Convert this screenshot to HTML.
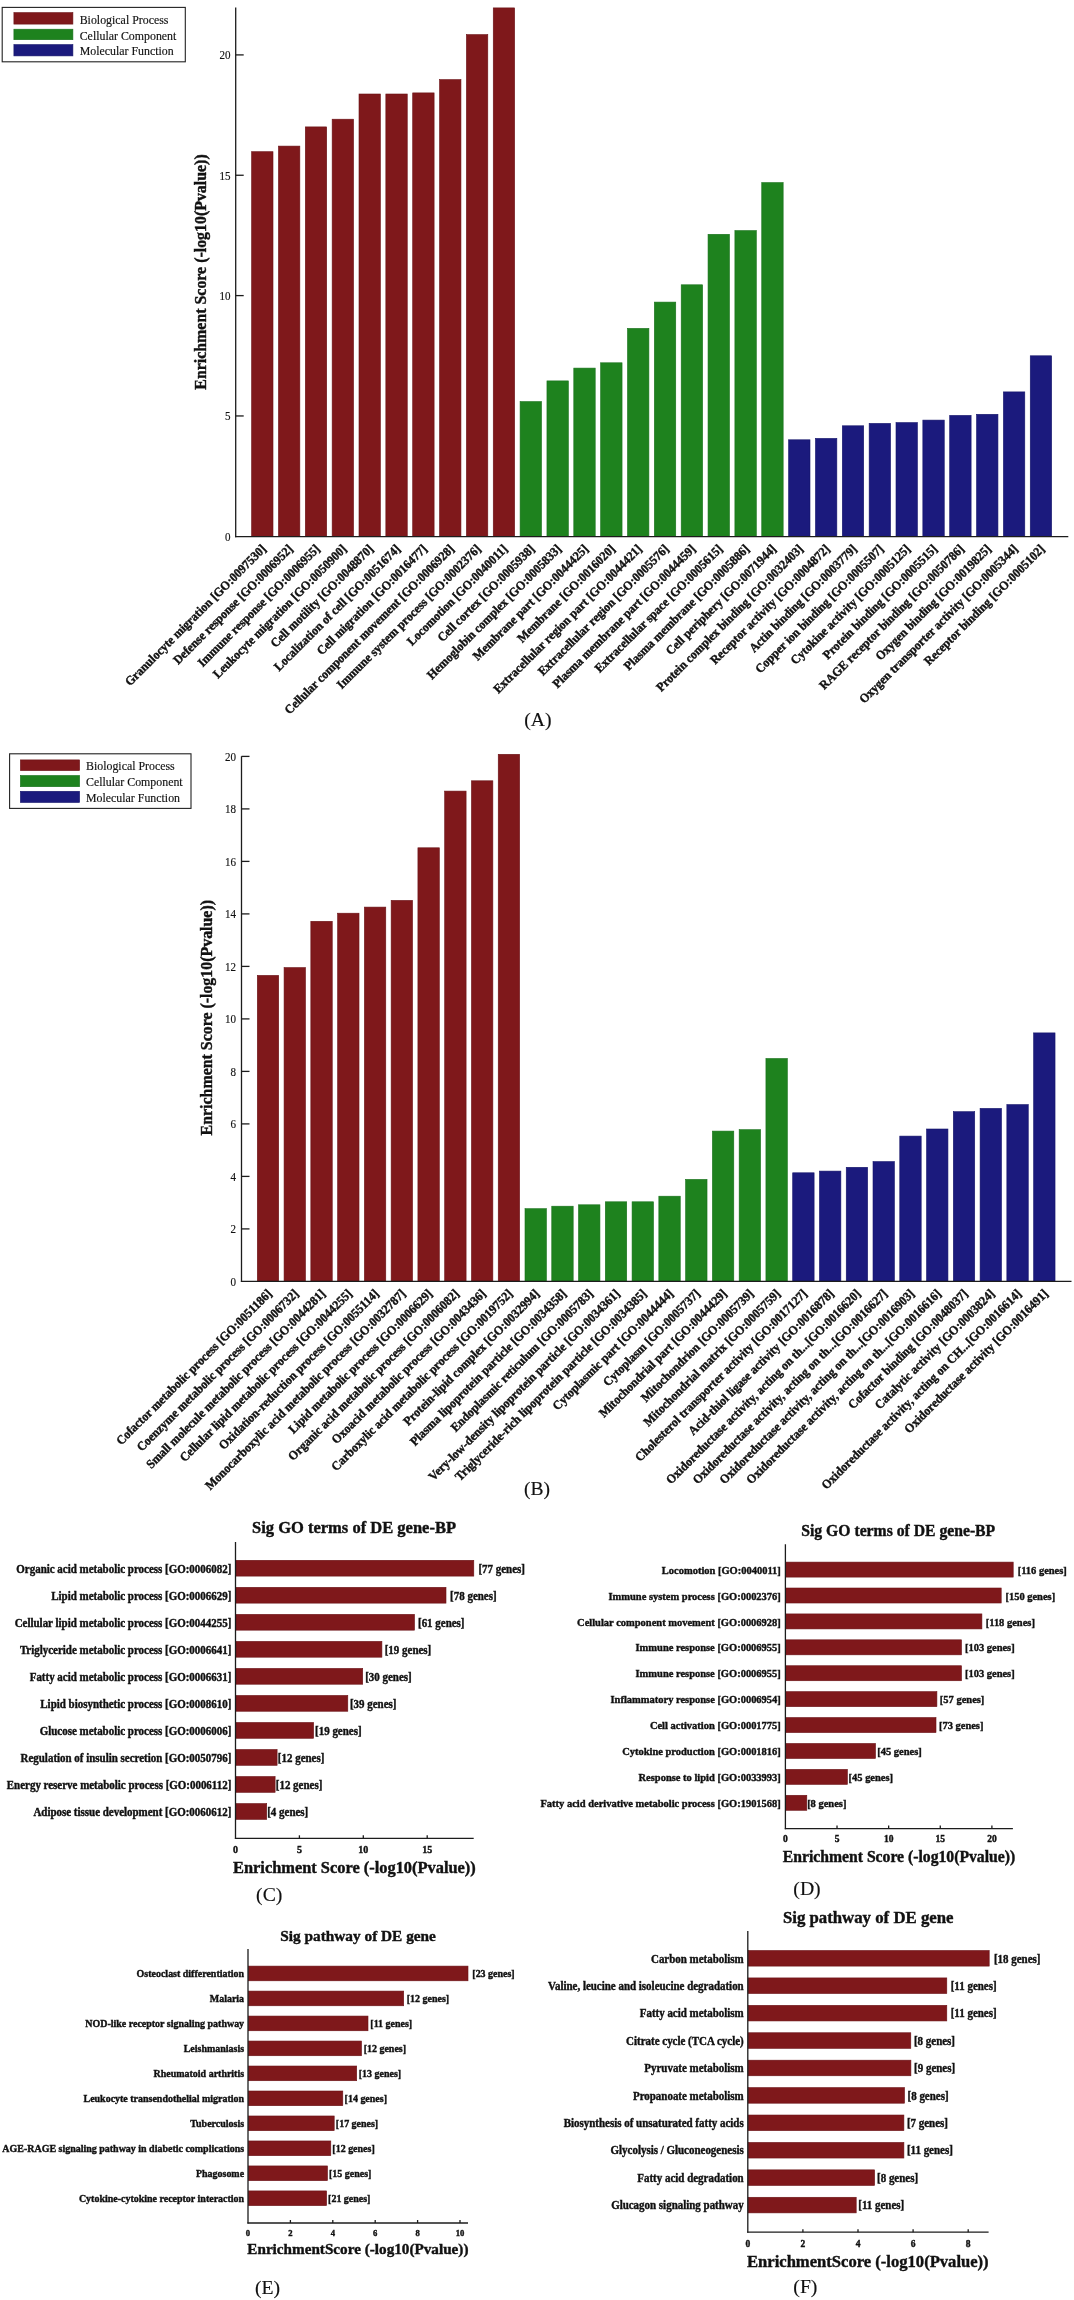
<!DOCTYPE html>
<html><head><meta charset="utf-8"><title>GO enrichment figure</title>
<style>
html,body{margin:0;padding:0;background:#fff;}
body{width:1074px;height:2300px;overflow:hidden;}
svg{display:block;will-change:transform;font-family:"Liberation Serif",serif;}
text{fill:#111;}
</style></head><body>
<svg width="1074" height="2300" viewBox="0 0 1074 2300">
<rect width="1074" height="2300" fill="#fff"/>
<rect x="2.2" y="7.4" width="183.1" height="54.4" fill="none" stroke="#222" stroke-width="1.1"/>
<rect x="13.90" y="12.60" width="59.00" height="11.50" fill="#7f181b" stroke="#6a1216" stroke-width="0.6"/>
<text transform="translate(79.70 23.51) scale(0.990 1)" font-size="12.0" stroke="#111" stroke-width="0.15">Biological Process</text>
<rect x="13.90" y="29.20" width="59.00" height="10.50" fill="#1e821e" stroke="#17701a" stroke-width="0.6"/>
<text transform="translate(79.70 39.61) scale(0.990 1)" font-size="12.0" stroke="#111" stroke-width="0.15">Cellular Component</text>
<rect x="13.90" y="44.60" width="59.00" height="11.30" fill="#1b1a7d" stroke="#15146a" stroke-width="0.6"/>
<text transform="translate(79.70 55.41) scale(0.990 1)" font-size="12.0" stroke="#111" stroke-width="0.15">Molecular Function</text>
<rect x="251.60" y="151.70" width="21.40" height="384.70" fill="#7f181b" stroke="#6a1216" stroke-width="0.6"/>
<rect x="278.45" y="146.10" width="21.40" height="390.30" fill="#7f181b" stroke="#6a1216" stroke-width="0.6"/>
<rect x="305.30" y="126.90" width="21.40" height="409.50" fill="#7f181b" stroke="#6a1216" stroke-width="0.6"/>
<rect x="332.15" y="119.20" width="21.40" height="417.20" fill="#7f181b" stroke="#6a1216" stroke-width="0.6"/>
<rect x="359.00" y="94.00" width="21.40" height="442.40" fill="#7f181b" stroke="#6a1216" stroke-width="0.6"/>
<rect x="385.85" y="94.00" width="21.40" height="442.40" fill="#7f181b" stroke="#6a1216" stroke-width="0.6"/>
<rect x="412.70" y="92.90" width="21.40" height="443.50" fill="#7f181b" stroke="#6a1216" stroke-width="0.6"/>
<rect x="439.55" y="79.60" width="21.40" height="456.80" fill="#7f181b" stroke="#6a1216" stroke-width="0.6"/>
<rect x="466.40" y="34.60" width="21.40" height="501.80" fill="#7f181b" stroke="#6a1216" stroke-width="0.6"/>
<rect x="493.25" y="7.90" width="21.40" height="528.50" fill="#7f181b" stroke="#6a1216" stroke-width="0.6"/>
<rect x="520.10" y="401.60" width="21.40" height="134.80" fill="#1e821e" stroke="#17701a" stroke-width="0.6"/>
<rect x="546.95" y="380.90" width="21.40" height="155.50" fill="#1e821e" stroke="#17701a" stroke-width="0.6"/>
<rect x="573.80" y="368.10" width="21.40" height="168.30" fill="#1e821e" stroke="#17701a" stroke-width="0.6"/>
<rect x="600.65" y="362.80" width="21.40" height="173.60" fill="#1e821e" stroke="#17701a" stroke-width="0.6"/>
<rect x="627.50" y="328.40" width="21.40" height="208.00" fill="#1e821e" stroke="#17701a" stroke-width="0.6"/>
<rect x="654.35" y="302.10" width="21.40" height="234.30" fill="#1e821e" stroke="#17701a" stroke-width="0.6"/>
<rect x="681.20" y="284.80" width="21.40" height="251.60" fill="#1e821e" stroke="#17701a" stroke-width="0.6"/>
<rect x="708.05" y="234.30" width="21.40" height="302.10" fill="#1e821e" stroke="#17701a" stroke-width="0.6"/>
<rect x="734.90" y="230.60" width="21.40" height="305.80" fill="#1e821e" stroke="#17701a" stroke-width="0.6"/>
<rect x="761.75" y="182.60" width="21.40" height="353.80" fill="#1e821e" stroke="#17701a" stroke-width="0.6"/>
<rect x="788.60" y="439.80" width="21.40" height="96.60" fill="#1b1a7d" stroke="#15146a" stroke-width="0.6"/>
<rect x="815.45" y="438.40" width="21.40" height="98.00" fill="#1b1a7d" stroke="#15146a" stroke-width="0.6"/>
<rect x="842.30" y="425.80" width="21.40" height="110.60" fill="#1b1a7d" stroke="#15146a" stroke-width="0.6"/>
<rect x="869.15" y="423.40" width="21.40" height="113.00" fill="#1b1a7d" stroke="#15146a" stroke-width="0.6"/>
<rect x="896.00" y="422.60" width="21.40" height="113.80" fill="#1b1a7d" stroke="#15146a" stroke-width="0.6"/>
<rect x="922.85" y="420.10" width="21.40" height="116.30" fill="#1b1a7d" stroke="#15146a" stroke-width="0.6"/>
<rect x="949.70" y="415.40" width="21.40" height="121.00" fill="#1b1a7d" stroke="#15146a" stroke-width="0.6"/>
<rect x="976.55" y="414.30" width="21.40" height="122.10" fill="#1b1a7d" stroke="#15146a" stroke-width="0.6"/>
<rect x="1003.40" y="391.90" width="21.40" height="144.50" fill="#1b1a7d" stroke="#15146a" stroke-width="0.6"/>
<rect x="1030.25" y="355.80" width="21.40" height="180.60" fill="#1b1a7d" stroke="#15146a" stroke-width="0.6"/>
<line x1="235.70" y1="7.40" x2="235.70" y2="537.30" stroke="#1c1c1c" stroke-width="1.3"/>
<line x1="235.10" y1="536.70" x2="1068.30" y2="536.70" stroke="#1c1c1c" stroke-width="1.3"/>
<text transform="translate(230.50 540.80) scale(0.900 1)" font-size="12.3" text-anchor="end" stroke="#111" stroke-width="0.15">0</text>
<line x1="235.70" y1="415.95" x2="243.70" y2="415.95" stroke="#1c1c1c" stroke-width="1.3"/>
<text transform="translate(230.50 420.45) scale(0.900 1)" font-size="12.3" text-anchor="end" stroke="#111" stroke-width="0.15">5</text>
<line x1="235.70" y1="295.60" x2="243.70" y2="295.60" stroke="#1c1c1c" stroke-width="1.3"/>
<text transform="translate(230.50 300.10) scale(0.900 1)" font-size="12.3" text-anchor="end" stroke="#111" stroke-width="0.15">10</text>
<line x1="235.70" y1="175.25" x2="243.70" y2="175.25" stroke="#1c1c1c" stroke-width="1.3"/>
<text transform="translate(230.50 179.75) scale(0.900 1)" font-size="12.3" text-anchor="end" stroke="#111" stroke-width="0.15">15</text>
<line x1="235.70" y1="54.90" x2="243.70" y2="54.90" stroke="#1c1c1c" stroke-width="1.3"/>
<text transform="translate(230.50 59.40) scale(0.900 1)" font-size="12.3" text-anchor="end" stroke="#111" stroke-width="0.15">20</text>
<text transform="translate(206.20 272.00) rotate(-90)" font-size="15.9" font-weight="bold" text-anchor="middle" stroke="#111" stroke-width="0.4">Enrichment Score (-log10(Pvalue))</text>
<text transform="translate(266.80 549.70) rotate(-45) scale(0.955 1)" font-size="12.6" font-weight="bold" text-anchor="end" stroke="#111" stroke-width="0.4">Granulocyte migration [GO:0097530]</text>
<text transform="translate(293.65 549.70) rotate(-45) scale(0.955 1)" font-size="12.6" font-weight="bold" text-anchor="end" stroke="#111" stroke-width="0.4">Defense response [GO:0006952]</text>
<text transform="translate(320.50 549.70) rotate(-45) scale(0.955 1)" font-size="12.6" font-weight="bold" text-anchor="end" stroke="#111" stroke-width="0.4">Immune response [GO:0006955]</text>
<text transform="translate(347.35 549.70) rotate(-45) scale(0.955 1)" font-size="12.6" font-weight="bold" text-anchor="end" stroke="#111" stroke-width="0.4">Leukocyte migration [GO:0050900]</text>
<text transform="translate(374.20 549.70) rotate(-45) scale(0.955 1)" font-size="12.6" font-weight="bold" text-anchor="end" stroke="#111" stroke-width="0.4">Cell motility [GO:0048870]</text>
<text transform="translate(401.05 549.70) rotate(-45) scale(0.955 1)" font-size="12.6" font-weight="bold" text-anchor="end" stroke="#111" stroke-width="0.4">Localization of cell [GO:0051674]</text>
<text transform="translate(427.90 549.70) rotate(-45) scale(0.955 1)" font-size="12.6" font-weight="bold" text-anchor="end" stroke="#111" stroke-width="0.4">Cell migration [GO:0016477]</text>
<text transform="translate(454.75 549.70) rotate(-45) scale(0.955 1)" font-size="12.6" font-weight="bold" text-anchor="end" stroke="#111" stroke-width="0.4">Cellular component movement [GO:0006928]</text>
<text transform="translate(481.60 549.70) rotate(-45) scale(0.955 1)" font-size="12.6" font-weight="bold" text-anchor="end" stroke="#111" stroke-width="0.4">Immune system process [GO:0002376]</text>
<text transform="translate(508.45 549.70) rotate(-45) scale(0.955 1)" font-size="12.6" font-weight="bold" text-anchor="end" stroke="#111" stroke-width="0.4">Locomotion [GO:0040011]</text>
<text transform="translate(535.30 549.70) rotate(-45) scale(0.955 1)" font-size="12.6" font-weight="bold" text-anchor="end" stroke="#111" stroke-width="0.4">Cell cortex [GO:0005938]</text>
<text transform="translate(562.15 549.70) rotate(-45) scale(0.955 1)" font-size="12.6" font-weight="bold" text-anchor="end" stroke="#111" stroke-width="0.4">Hemoglobin complex [GO:0005833]</text>
<text transform="translate(589.00 549.70) rotate(-45) scale(0.955 1)" font-size="12.6" font-weight="bold" text-anchor="end" stroke="#111" stroke-width="0.4">Membrane part [GO:0044425]</text>
<text transform="translate(615.85 549.70) rotate(-45) scale(0.955 1)" font-size="12.6" font-weight="bold" text-anchor="end" stroke="#111" stroke-width="0.4">Membrane [GO:0016020]</text>
<text transform="translate(642.70 549.70) rotate(-45) scale(0.955 1)" font-size="12.6" font-weight="bold" text-anchor="end" stroke="#111" stroke-width="0.4">Extracellular region part [GO:0044421]</text>
<text transform="translate(669.55 549.70) rotate(-45) scale(0.955 1)" font-size="12.6" font-weight="bold" text-anchor="end" stroke="#111" stroke-width="0.4">Extracellular region [GO:0005576]</text>
<text transform="translate(696.40 549.70) rotate(-45) scale(0.955 1)" font-size="12.6" font-weight="bold" text-anchor="end" stroke="#111" stroke-width="0.4">Plasma membrane part [GO:0044459]</text>
<text transform="translate(723.25 549.70) rotate(-45) scale(0.955 1)" font-size="12.6" font-weight="bold" text-anchor="end" stroke="#111" stroke-width="0.4">Extracellular space [GO:0005615]</text>
<text transform="translate(750.10 549.70) rotate(-45) scale(0.955 1)" font-size="12.6" font-weight="bold" text-anchor="end" stroke="#111" stroke-width="0.4">Plasma membrane [GO:0005886]</text>
<text transform="translate(776.95 549.70) rotate(-45) scale(0.955 1)" font-size="12.6" font-weight="bold" text-anchor="end" stroke="#111" stroke-width="0.4">Cell periphery [GO:0071944]</text>
<text transform="translate(803.80 549.70) rotate(-45) scale(0.955 1)" font-size="12.6" font-weight="bold" text-anchor="end" stroke="#111" stroke-width="0.4">Protein complex binding [GO:0032403]</text>
<text transform="translate(830.65 549.70) rotate(-45) scale(0.955 1)" font-size="12.6" font-weight="bold" text-anchor="end" stroke="#111" stroke-width="0.4">Receptor activity [GO:0004872]</text>
<text transform="translate(857.50 549.70) rotate(-45) scale(0.955 1)" font-size="12.6" font-weight="bold" text-anchor="end" stroke="#111" stroke-width="0.4">Actin binding [GO:0003779]</text>
<text transform="translate(884.35 549.70) rotate(-45) scale(0.955 1)" font-size="12.6" font-weight="bold" text-anchor="end" stroke="#111" stroke-width="0.4">Copper ion binding [GO:0005507]</text>
<text transform="translate(911.20 549.70) rotate(-45) scale(0.955 1)" font-size="12.6" font-weight="bold" text-anchor="end" stroke="#111" stroke-width="0.4">Cytokine activity [GO:0005125]</text>
<text transform="translate(938.05 549.70) rotate(-45) scale(0.955 1)" font-size="12.6" font-weight="bold" text-anchor="end" stroke="#111" stroke-width="0.4">Protein binding [GO:0005515]</text>
<text transform="translate(964.90 549.70) rotate(-45) scale(0.955 1)" font-size="12.6" font-weight="bold" text-anchor="end" stroke="#111" stroke-width="0.4">RAGE receptor binding [GO:0050786]</text>
<text transform="translate(991.75 549.70) rotate(-45) scale(0.955 1)" font-size="12.6" font-weight="bold" text-anchor="end" stroke="#111" stroke-width="0.4">Oxygen binding [GO:0019825]</text>
<text transform="translate(1018.60 549.70) rotate(-45) scale(0.955 1)" font-size="12.6" font-weight="bold" text-anchor="end" stroke="#111" stroke-width="0.4">Oxygen transporter activity [GO:0005344]</text>
<text transform="translate(1045.45 549.70) rotate(-45) scale(0.955 1)" font-size="12.6" font-weight="bold" text-anchor="end" stroke="#111" stroke-width="0.4">Receptor binding [GO:0005102]</text>
<text transform="translate(537.80 725.80)" font-size="19.7" text-anchor="middle" stroke="#111" stroke-width="0.15">(A)</text>
<rect x="9.6" y="753.8" width="181.4" height="54.6" fill="none" stroke="#222" stroke-width="1.1"/>
<rect x="20.40" y="759.90" width="59.20" height="10.70" fill="#7f181b" stroke="#6a1216" stroke-width="0.6"/>
<text transform="translate(86.00 770.41) scale(0.990 1)" font-size="12.0" stroke="#111" stroke-width="0.15">Biological Process</text>
<rect x="20.40" y="775.50" width="59.20" height="11.20" fill="#1e821e" stroke="#17701a" stroke-width="0.6"/>
<text transform="translate(86.00 786.26) scale(0.990 1)" font-size="12.0" stroke="#111" stroke-width="0.15">Cellular Component</text>
<rect x="20.40" y="791.30" width="59.20" height="11.20" fill="#1b1a7d" stroke="#15146a" stroke-width="0.6"/>
<text transform="translate(86.00 802.06) scale(0.990 1)" font-size="12.0" stroke="#111" stroke-width="0.15">Molecular Function</text>
<rect x="257.30" y="975.40" width="21.40" height="305.70" fill="#7f181b" stroke="#6a1216" stroke-width="0.6"/>
<rect x="284.07" y="967.60" width="21.40" height="313.50" fill="#7f181b" stroke="#6a1216" stroke-width="0.6"/>
<rect x="310.84" y="921.30" width="21.40" height="359.80" fill="#7f181b" stroke="#6a1216" stroke-width="0.6"/>
<rect x="337.61" y="913.20" width="21.40" height="367.90" fill="#7f181b" stroke="#6a1216" stroke-width="0.6"/>
<rect x="364.38" y="907.10" width="21.40" height="374.00" fill="#7f181b" stroke="#6a1216" stroke-width="0.6"/>
<rect x="391.15" y="900.40" width="21.40" height="380.70" fill="#7f181b" stroke="#6a1216" stroke-width="0.6"/>
<rect x="417.92" y="847.80" width="21.40" height="433.30" fill="#7f181b" stroke="#6a1216" stroke-width="0.6"/>
<rect x="444.69" y="791.10" width="21.40" height="490.00" fill="#7f181b" stroke="#6a1216" stroke-width="0.6"/>
<rect x="471.46" y="780.80" width="21.40" height="500.30" fill="#7f181b" stroke="#6a1216" stroke-width="0.6"/>
<rect x="498.23" y="754.30" width="21.40" height="526.80" fill="#7f181b" stroke="#6a1216" stroke-width="0.6"/>
<rect x="525.00" y="1208.70" width="21.40" height="72.40" fill="#1e821e" stroke="#17701a" stroke-width="0.6"/>
<rect x="551.77" y="1206.20" width="21.40" height="74.90" fill="#1e821e" stroke="#17701a" stroke-width="0.6"/>
<rect x="578.54" y="1204.80" width="21.40" height="76.30" fill="#1e821e" stroke="#17701a" stroke-width="0.6"/>
<rect x="605.31" y="1201.80" width="21.40" height="79.30" fill="#1e821e" stroke="#17701a" stroke-width="0.6"/>
<rect x="632.08" y="1201.80" width="21.40" height="79.30" fill="#1e821e" stroke="#17701a" stroke-width="0.6"/>
<rect x="658.85" y="1196.20" width="21.40" height="84.90" fill="#1e821e" stroke="#17701a" stroke-width="0.6"/>
<rect x="685.62" y="1179.40" width="21.40" height="101.70" fill="#1e821e" stroke="#17701a" stroke-width="0.6"/>
<rect x="712.39" y="1131.10" width="21.40" height="150.00" fill="#1e821e" stroke="#17701a" stroke-width="0.6"/>
<rect x="739.16" y="1129.70" width="21.40" height="151.40" fill="#1e821e" stroke="#17701a" stroke-width="0.6"/>
<rect x="765.93" y="1058.50" width="21.40" height="222.60" fill="#1e821e" stroke="#17701a" stroke-width="0.6"/>
<rect x="792.70" y="1172.80" width="21.40" height="108.30" fill="#1b1a7d" stroke="#15146a" stroke-width="0.6"/>
<rect x="819.47" y="1171.10" width="21.40" height="110.00" fill="#1b1a7d" stroke="#15146a" stroke-width="0.6"/>
<rect x="846.24" y="1167.30" width="21.40" height="113.80" fill="#1b1a7d" stroke="#15146a" stroke-width="0.6"/>
<rect x="873.01" y="1161.60" width="21.40" height="119.50" fill="#1b1a7d" stroke="#15146a" stroke-width="0.6"/>
<rect x="899.78" y="1136.10" width="21.40" height="145.00" fill="#1b1a7d" stroke="#15146a" stroke-width="0.6"/>
<rect x="926.55" y="1129.00" width="21.40" height="152.10" fill="#1b1a7d" stroke="#15146a" stroke-width="0.6"/>
<rect x="953.32" y="1111.70" width="21.40" height="169.40" fill="#1b1a7d" stroke="#15146a" stroke-width="0.6"/>
<rect x="980.09" y="1108.40" width="21.40" height="172.70" fill="#1b1a7d" stroke="#15146a" stroke-width="0.6"/>
<rect x="1006.86" y="1104.60" width="21.40" height="176.50" fill="#1b1a7d" stroke="#15146a" stroke-width="0.6"/>
<rect x="1033.63" y="1032.90" width="21.40" height="248.20" fill="#1b1a7d" stroke="#15146a" stroke-width="0.6"/>
<line x1="241.50" y1="756.30" x2="241.50" y2="1282.00" stroke="#1c1c1c" stroke-width="1.3"/>
<line x1="240.90" y1="1281.40" x2="1071.50" y2="1281.40" stroke="#1c1c1c" stroke-width="1.3"/>
<text transform="translate(236.00 1285.90) scale(0.900 1)" font-size="12.3" text-anchor="end" stroke="#111" stroke-width="0.15">0</text>
<line x1="241.50" y1="1228.90" x2="249.50" y2="1228.90" stroke="#1c1c1c" stroke-width="1.3"/>
<text transform="translate(236.00 1233.40) scale(0.900 1)" font-size="12.3" text-anchor="end" stroke="#111" stroke-width="0.15">2</text>
<line x1="241.50" y1="1176.40" x2="249.50" y2="1176.40" stroke="#1c1c1c" stroke-width="1.3"/>
<text transform="translate(236.00 1180.90) scale(0.900 1)" font-size="12.3" text-anchor="end" stroke="#111" stroke-width="0.15">4</text>
<line x1="241.50" y1="1123.90" x2="249.50" y2="1123.90" stroke="#1c1c1c" stroke-width="1.3"/>
<text transform="translate(236.00 1128.40) scale(0.900 1)" font-size="12.3" text-anchor="end" stroke="#111" stroke-width="0.15">6</text>
<line x1="241.50" y1="1071.40" x2="249.50" y2="1071.40" stroke="#1c1c1c" stroke-width="1.3"/>
<text transform="translate(236.00 1075.90) scale(0.900 1)" font-size="12.3" text-anchor="end" stroke="#111" stroke-width="0.15">8</text>
<line x1="241.50" y1="1018.90" x2="249.50" y2="1018.90" stroke="#1c1c1c" stroke-width="1.3"/>
<text transform="translate(236.00 1023.40) scale(0.900 1)" font-size="12.3" text-anchor="end" stroke="#111" stroke-width="0.15">10</text>
<line x1="241.50" y1="966.40" x2="249.50" y2="966.40" stroke="#1c1c1c" stroke-width="1.3"/>
<text transform="translate(236.00 970.90) scale(0.900 1)" font-size="12.3" text-anchor="end" stroke="#111" stroke-width="0.15">12</text>
<line x1="241.50" y1="913.90" x2="249.50" y2="913.90" stroke="#1c1c1c" stroke-width="1.3"/>
<text transform="translate(236.00 918.40) scale(0.900 1)" font-size="12.3" text-anchor="end" stroke="#111" stroke-width="0.15">14</text>
<line x1="241.50" y1="861.40" x2="249.50" y2="861.40" stroke="#1c1c1c" stroke-width="1.3"/>
<text transform="translate(236.00 865.90) scale(0.900 1)" font-size="12.3" text-anchor="end" stroke="#111" stroke-width="0.15">16</text>
<line x1="241.50" y1="808.90" x2="249.50" y2="808.90" stroke="#1c1c1c" stroke-width="1.3"/>
<text transform="translate(236.00 813.40) scale(0.900 1)" font-size="12.3" text-anchor="end" stroke="#111" stroke-width="0.15">18</text>
<line x1="241.50" y1="756.40" x2="249.50" y2="756.40" stroke="#1c1c1c" stroke-width="1.3"/>
<text transform="translate(236.00 760.90) scale(0.900 1)" font-size="12.3" text-anchor="end" stroke="#111" stroke-width="0.15">20</text>
<text transform="translate(211.50 1017.70) rotate(-90)" font-size="15.9" font-weight="bold" text-anchor="middle" stroke="#111" stroke-width="0.4">Enrichment Score (-log10(Pvalue))</text>
<text transform="translate(272.50 1294.40) rotate(-45) scale(0.955 1)" font-size="12.6" font-weight="bold" text-anchor="end" stroke="#111" stroke-width="0.4">Cofactor metabolic process [GO:0051186]</text>
<text transform="translate(299.27 1294.40) rotate(-45) scale(0.955 1)" font-size="12.6" font-weight="bold" text-anchor="end" stroke="#111" stroke-width="0.4">Coenzyme metabolic process [GO:0006732]</text>
<text transform="translate(326.04 1294.40) rotate(-45) scale(0.955 1)" font-size="12.6" font-weight="bold" text-anchor="end" stroke="#111" stroke-width="0.4">Small molecule metabolic process [GO:0044281]</text>
<text transform="translate(352.81 1294.40) rotate(-45) scale(0.955 1)" font-size="12.6" font-weight="bold" text-anchor="end" stroke="#111" stroke-width="0.4">Cellular lipid metabolic process [GO:0044255]</text>
<text transform="translate(379.58 1294.40) rotate(-45) scale(0.955 1)" font-size="12.6" font-weight="bold" text-anchor="end" stroke="#111" stroke-width="0.4">Oxidation-reduction process [GO:0055114]</text>
<text transform="translate(406.35 1294.40) rotate(-45) scale(0.955 1)" font-size="12.6" font-weight="bold" text-anchor="end" stroke="#111" stroke-width="0.4">Monocarboxylic acid metabolic process [GO:0032787]</text>
<text transform="translate(433.12 1294.40) rotate(-45) scale(0.955 1)" font-size="12.6" font-weight="bold" text-anchor="end" stroke="#111" stroke-width="0.4">Lipid metabolic process [GO:0006629]</text>
<text transform="translate(459.89 1294.40) rotate(-45) scale(0.955 1)" font-size="12.6" font-weight="bold" text-anchor="end" stroke="#111" stroke-width="0.4">Organic acid metabolic process [GO:0006082]</text>
<text transform="translate(486.66 1294.40) rotate(-45) scale(0.955 1)" font-size="12.6" font-weight="bold" text-anchor="end" stroke="#111" stroke-width="0.4">Oxoacid metabolic process [GO:0043436]</text>
<text transform="translate(513.43 1294.40) rotate(-45) scale(0.955 1)" font-size="12.6" font-weight="bold" text-anchor="end" stroke="#111" stroke-width="0.4">Carboxylic acid metabolic process [GO:0019752]</text>
<text transform="translate(540.20 1294.40) rotate(-45) scale(0.955 1)" font-size="12.6" font-weight="bold" text-anchor="end" stroke="#111" stroke-width="0.4">Protein-lipid complex [GO:0032994]</text>
<text transform="translate(566.97 1294.40) rotate(-45) scale(0.955 1)" font-size="12.6" font-weight="bold" text-anchor="end" stroke="#111" stroke-width="0.4">Plasma lipoprotein particle [GO:0034358]</text>
<text transform="translate(593.74 1294.40) rotate(-45) scale(0.955 1)" font-size="12.6" font-weight="bold" text-anchor="end" stroke="#111" stroke-width="0.4">Endoplasmic reticulum [GO:0005783]</text>
<text transform="translate(620.51 1294.40) rotate(-45) scale(0.955 1)" font-size="12.6" font-weight="bold" text-anchor="end" stroke="#111" stroke-width="0.4">Very-low-density lipoprotein particle [GO:0034361]</text>
<text transform="translate(647.28 1294.40) rotate(-45) scale(0.955 1)" font-size="12.6" font-weight="bold" text-anchor="end" stroke="#111" stroke-width="0.4">Triglyceride-rich lipoprotein particle [GO:0034385]</text>
<text transform="translate(674.05 1294.40) rotate(-45) scale(0.955 1)" font-size="12.6" font-weight="bold" text-anchor="end" stroke="#111" stroke-width="0.4">Cytoplasmic part [GO:0044444]</text>
<text transform="translate(700.82 1294.40) rotate(-45) scale(0.955 1)" font-size="12.6" font-weight="bold" text-anchor="end" stroke="#111" stroke-width="0.4">Cytoplasm [GO:0005737]</text>
<text transform="translate(727.59 1294.40) rotate(-45) scale(0.955 1)" font-size="12.6" font-weight="bold" text-anchor="end" stroke="#111" stroke-width="0.4">Mitochondrial part [GO:0044429]</text>
<text transform="translate(754.36 1294.40) rotate(-45) scale(0.955 1)" font-size="12.6" font-weight="bold" text-anchor="end" stroke="#111" stroke-width="0.4">Mitochondrion [GO:0005739]</text>
<text transform="translate(781.13 1294.40) rotate(-45) scale(0.955 1)" font-size="12.6" font-weight="bold" text-anchor="end" stroke="#111" stroke-width="0.4">Mitochondrial matrix [GO:0005759]</text>
<text transform="translate(807.90 1294.40) rotate(-45) scale(0.955 1)" font-size="12.6" font-weight="bold" text-anchor="end" stroke="#111" stroke-width="0.4">Cholesterol transporter activity [GO:0017127]</text>
<text transform="translate(834.67 1294.40) rotate(-45) scale(0.955 1)" font-size="12.6" font-weight="bold" text-anchor="end" stroke="#111" stroke-width="0.4">Acid-thiol ligase activity [GO:0016878]</text>
<text transform="translate(861.44 1294.40) rotate(-45) scale(0.955 1)" font-size="12.6" font-weight="bold" text-anchor="end" stroke="#111" stroke-width="0.4">Oxidoreductase activity, acting on th...[GO:0016620]</text>
<text transform="translate(888.21 1294.40) rotate(-45) scale(0.955 1)" font-size="12.6" font-weight="bold" text-anchor="end" stroke="#111" stroke-width="0.4">Oxidoreductase activity, acting on th...[GO:0016627]</text>
<text transform="translate(914.98 1294.40) rotate(-45) scale(0.955 1)" font-size="12.6" font-weight="bold" text-anchor="end" stroke="#111" stroke-width="0.4">Oxidoreductase activity, acting on th...[GO:0016903]</text>
<text transform="translate(941.75 1294.40) rotate(-45) scale(0.955 1)" font-size="12.6" font-weight="bold" text-anchor="end" stroke="#111" stroke-width="0.4">Oxidoreductase activity, acting on th...[GO:0016616]</text>
<text transform="translate(968.52 1294.40) rotate(-45) scale(0.955 1)" font-size="12.6" font-weight="bold" text-anchor="end" stroke="#111" stroke-width="0.4">Cofactor binding [GO:0048037]</text>
<text transform="translate(995.29 1294.40) rotate(-45) scale(0.955 1)" font-size="12.6" font-weight="bold" text-anchor="end" stroke="#111" stroke-width="0.4">Catalytic activity [GO:0003824]</text>
<text transform="translate(1022.06 1294.40) rotate(-45) scale(0.955 1)" font-size="12.6" font-weight="bold" text-anchor="end" stroke="#111" stroke-width="0.4">Oxidoreductase activity, acting on CH...[GO:0016614]</text>
<text transform="translate(1048.83 1294.40) rotate(-45) scale(0.955 1)" font-size="12.6" font-weight="bold" text-anchor="end" stroke="#111" stroke-width="0.4">Oxidoreductase activity [GO:0016491]</text>
<text transform="translate(537.00 1495.30)" font-size="19.5" text-anchor="middle" stroke="#111" stroke-width="0.15">(B)</text>
<text transform="translate(354.00 1533.40)" font-size="16.5" font-weight="bold" text-anchor="middle" stroke="#111" stroke-width="0.4">Sig GO terms of DE gene-BP</text>
<rect x="235.80" y="1560.30" width="238.00" height="15.80" fill="#7f181b" stroke="#6a1216" stroke-width="0.6"/>
<text transform="translate(231.30 1572.80) scale(0.945 1)" font-size="11.6" font-weight="bold" text-anchor="end" stroke="#111" stroke-width="0.4">Organic acid metabolic process [GO:0006082]</text>
<text transform="translate(478.47 1572.80) scale(0.945 1)" font-size="11.6" font-weight="bold" stroke="#111" stroke-width="0.4">[77 genes]</text>
<rect x="235.80" y="1587.33" width="210.20" height="15.80" fill="#7f181b" stroke="#6a1216" stroke-width="0.6"/>
<text transform="translate(231.30 1599.83) scale(0.945 1)" font-size="11.6" font-weight="bold" text-anchor="end" stroke="#111" stroke-width="0.4">Lipid metabolic process [GO:0006629]</text>
<text transform="translate(450.12 1599.83) scale(0.945 1)" font-size="11.6" font-weight="bold" stroke="#111" stroke-width="0.4">[78 genes]</text>
<rect x="235.80" y="1614.36" width="178.70" height="15.80" fill="#7f181b" stroke="#6a1216" stroke-width="0.6"/>
<text transform="translate(231.30 1626.86) scale(0.945 1)" font-size="11.6" font-weight="bold" text-anchor="end" stroke="#111" stroke-width="0.4">Cellular lipid metabolic process [GO:0044255]</text>
<text transform="translate(417.99 1626.86) scale(0.945 1)" font-size="11.6" font-weight="bold" stroke="#111" stroke-width="0.4">[61 genes]</text>
<rect x="235.80" y="1641.39" width="146.10" height="15.80" fill="#7f181b" stroke="#6a1216" stroke-width="0.6"/>
<text transform="translate(231.30 1653.89) scale(0.945 1)" font-size="11.6" font-weight="bold" text-anchor="end" stroke="#111" stroke-width="0.4">Triglyceride metabolic process [GO:0006641]</text>
<text transform="translate(384.73 1653.89) scale(0.945 1)" font-size="11.6" font-weight="bold" stroke="#111" stroke-width="0.4">[19 genes]</text>
<rect x="235.80" y="1668.42" width="126.90" height="15.80" fill="#7f181b" stroke="#6a1216" stroke-width="0.6"/>
<text transform="translate(231.30 1680.92) scale(0.945 1)" font-size="11.6" font-weight="bold" text-anchor="end" stroke="#111" stroke-width="0.4">Fatty acid metabolic process [GO:0006631]</text>
<text transform="translate(365.15 1680.92) scale(0.945 1)" font-size="11.6" font-weight="bold" stroke="#111" stroke-width="0.4">[30 genes]</text>
<rect x="235.80" y="1695.45" width="112.00" height="15.80" fill="#7f181b" stroke="#6a1216" stroke-width="0.6"/>
<text transform="translate(231.30 1707.95) scale(0.945 1)" font-size="11.6" font-weight="bold" text-anchor="end" stroke="#111" stroke-width="0.4">Lipid biosynthetic process [GO:0008610]</text>
<text transform="translate(349.95 1707.95) scale(0.945 1)" font-size="11.6" font-weight="bold" stroke="#111" stroke-width="0.4">[39 genes]</text>
<rect x="235.80" y="1722.48" width="77.80" height="15.80" fill="#7f181b" stroke="#6a1216" stroke-width="0.6"/>
<text transform="translate(231.30 1734.98) scale(0.945 1)" font-size="11.6" font-weight="bold" text-anchor="end" stroke="#111" stroke-width="0.4">Glucose metabolic process [GO:0006006]</text>
<text transform="translate(315.07 1734.98) scale(0.945 1)" font-size="11.6" font-weight="bold" stroke="#111" stroke-width="0.4">[19 genes]</text>
<rect x="235.80" y="1749.51" width="41.30" height="15.80" fill="#7f181b" stroke="#6a1216" stroke-width="0.6"/>
<text transform="translate(231.30 1762.01) scale(0.945 1)" font-size="11.6" font-weight="bold" text-anchor="end" stroke="#111" stroke-width="0.4">Regulation of insulin secretion [GO:0050796]</text>
<text transform="translate(277.84 1762.01) scale(0.945 1)" font-size="11.6" font-weight="bold" stroke="#111" stroke-width="0.4">[12 genes]</text>
<rect x="235.80" y="1776.54" width="39.30" height="15.80" fill="#7f181b" stroke="#6a1216" stroke-width="0.6"/>
<text transform="translate(231.30 1789.04) scale(0.945 1)" font-size="11.6" font-weight="bold" text-anchor="end" stroke="#111" stroke-width="0.4">Energy reserve metabolic process [GO:0006112]</text>
<text transform="translate(275.80 1789.04) scale(0.945 1)" font-size="11.6" font-weight="bold" stroke="#111" stroke-width="0.4">[12 genes]</text>
<rect x="235.80" y="1803.57" width="30.90" height="15.80" fill="#7f181b" stroke="#6a1216" stroke-width="0.6"/>
<text transform="translate(231.30 1816.07) scale(0.945 1)" font-size="11.6" font-weight="bold" text-anchor="end" stroke="#111" stroke-width="0.4">Adipose tissue development [GO:0060612]</text>
<text transform="translate(267.23 1816.07) scale(0.945 1)" font-size="11.6" font-weight="bold" stroke="#111" stroke-width="0.4">[4 genes]</text>
<line x1="235.50" y1="1541.90" x2="235.50" y2="1838.90" stroke="#1c1c1c" stroke-width="1.3"/>
<line x1="234.90" y1="1838.30" x2="473.70" y2="1838.30" stroke="#1c1c1c" stroke-width="1.3"/>
<text transform="translate(235.50 1852.50)" font-size="10" font-weight="bold" text-anchor="middle" stroke="#111" stroke-width="0.4">0</text>
<line x1="299.40" y1="1838.30" x2="299.40" y2="1835.30" stroke="#1c1c1c" stroke-width="1.3"/>
<text transform="translate(299.40 1852.50)" font-size="10" font-weight="bold" text-anchor="middle" stroke="#111" stroke-width="0.4">5</text>
<line x1="363.30" y1="1838.30" x2="363.30" y2="1835.30" stroke="#1c1c1c" stroke-width="1.3"/>
<text transform="translate(363.30 1852.50)" font-size="10" font-weight="bold" text-anchor="middle" stroke="#111" stroke-width="0.4">10</text>
<line x1="427.20" y1="1838.30" x2="427.20" y2="1835.30" stroke="#1c1c1c" stroke-width="1.3"/>
<text transform="translate(427.20 1852.50)" font-size="10" font-weight="bold" text-anchor="middle" stroke="#111" stroke-width="0.4">15</text>
<text transform="translate(233.00 1873.00)" font-size="16.4" font-weight="bold" stroke="#111" stroke-width="0.4">Enrichment Score (-log10(Pvalue))</text>
<text transform="translate(269.20 1901.00)" font-size="19.7" text-anchor="middle" stroke="#111" stroke-width="0.15">(C)</text>
<text transform="translate(898.20 1536.30)" font-size="15.7" font-weight="bold" text-anchor="middle" stroke="#111" stroke-width="0.4">Sig GO terms of DE gene-BP</text>
<rect x="785.70" y="1562.10" width="227.50" height="15.00" fill="#7f181b" stroke="#6a1216" stroke-width="0.6"/>
<text transform="translate(780.80 1573.70) scale(0.945 1)" font-size="11.1" font-weight="bold" text-anchor="end" stroke="#111" stroke-width="0.4">Locomotion [GO:0040011]</text>
<text transform="translate(1017.66 1573.70) scale(0.945 1)" font-size="11.1" font-weight="bold" stroke="#111" stroke-width="0.4">[116 genes]</text>
<rect x="785.70" y="1588.01" width="215.50" height="15.00" fill="#7f181b" stroke="#6a1216" stroke-width="0.6"/>
<text transform="translate(780.80 1599.61) scale(0.945 1)" font-size="11.1" font-weight="bold" text-anchor="end" stroke="#111" stroke-width="0.4">Immune system process [GO:0002376]</text>
<text transform="translate(1005.42 1599.61) scale(0.945 1)" font-size="11.1" font-weight="bold" stroke="#111" stroke-width="0.4">[150 genes]</text>
<rect x="785.70" y="1613.92" width="196.20" height="15.00" fill="#7f181b" stroke="#6a1216" stroke-width="0.6"/>
<text transform="translate(780.80 1625.52) scale(0.945 1)" font-size="11.1" font-weight="bold" text-anchor="end" stroke="#111" stroke-width="0.4">Cellular component movement [GO:0006928]</text>
<text transform="translate(985.74 1625.52) scale(0.945 1)" font-size="11.1" font-weight="bold" stroke="#111" stroke-width="0.4">[118 genes]</text>
<rect x="785.70" y="1639.83" width="175.80" height="15.00" fill="#7f181b" stroke="#6a1216" stroke-width="0.6"/>
<text transform="translate(780.80 1651.43) scale(0.945 1)" font-size="11.1" font-weight="bold" text-anchor="end" stroke="#111" stroke-width="0.4">Immune response [GO:0006955]</text>
<text transform="translate(964.93 1651.43) scale(0.945 1)" font-size="11.1" font-weight="bold" stroke="#111" stroke-width="0.4">[103 genes]</text>
<rect x="785.70" y="1665.74" width="175.80" height="15.00" fill="#7f181b" stroke="#6a1216" stroke-width="0.6"/>
<text transform="translate(780.80 1677.34) scale(0.945 1)" font-size="11.1" font-weight="bold" text-anchor="end" stroke="#111" stroke-width="0.4">Immune response [GO:0006955]</text>
<text transform="translate(964.93 1677.34) scale(0.945 1)" font-size="11.1" font-weight="bold" stroke="#111" stroke-width="0.4">[103 genes]</text>
<rect x="785.70" y="1691.65" width="151.20" height="15.00" fill="#7f181b" stroke="#6a1216" stroke-width="0.6"/>
<text transform="translate(780.80 1703.25) scale(0.945 1)" font-size="11.1" font-weight="bold" text-anchor="end" stroke="#111" stroke-width="0.4">Inflammatory response [GO:0006954]</text>
<text transform="translate(939.84 1703.25) scale(0.945 1)" font-size="11.1" font-weight="bold" stroke="#111" stroke-width="0.4">[57 genes]</text>
<rect x="785.70" y="1717.56" width="150.30" height="15.00" fill="#7f181b" stroke="#6a1216" stroke-width="0.6"/>
<text transform="translate(780.80 1729.16) scale(0.945 1)" font-size="11.1" font-weight="bold" text-anchor="end" stroke="#111" stroke-width="0.4">Cell activation [GO:0001775]</text>
<text transform="translate(938.92 1729.16) scale(0.945 1)" font-size="11.1" font-weight="bold" stroke="#111" stroke-width="0.4">[73 genes]</text>
<rect x="785.70" y="1743.47" width="89.80" height="15.00" fill="#7f181b" stroke="#6a1216" stroke-width="0.6"/>
<text transform="translate(780.80 1755.07) scale(0.945 1)" font-size="11.1" font-weight="bold" text-anchor="end" stroke="#111" stroke-width="0.4">Cytokine production [GO:0001816]</text>
<text transform="translate(877.21 1755.07) scale(0.945 1)" font-size="11.1" font-weight="bold" stroke="#111" stroke-width="0.4">[45 genes]</text>
<rect x="785.70" y="1769.38" width="61.70" height="15.00" fill="#7f181b" stroke="#6a1216" stroke-width="0.6"/>
<text transform="translate(780.80 1780.98) scale(0.945 1)" font-size="11.1" font-weight="bold" text-anchor="end" stroke="#111" stroke-width="0.4">Response to lipid [GO:0033993]</text>
<text transform="translate(848.55 1780.98) scale(0.945 1)" font-size="11.1" font-weight="bold" stroke="#111" stroke-width="0.4">[45 genes]</text>
<rect x="785.70" y="1795.29" width="21.10" height="15.00" fill="#7f181b" stroke="#6a1216" stroke-width="0.6"/>
<text transform="translate(780.80 1806.89) scale(0.945 1)" font-size="11.1" font-weight="bold" text-anchor="end" stroke="#111" stroke-width="0.4">Fatty acid derivative metabolic process [GO:1901568]</text>
<text transform="translate(807.13 1806.89) scale(0.945 1)" font-size="11.1" font-weight="bold" stroke="#111" stroke-width="0.4">[8 genes]</text>
<line x1="785.40" y1="1544.20" x2="785.40" y2="1829.20" stroke="#1c1c1c" stroke-width="1.3"/>
<line x1="784.80" y1="1828.60" x2="1012.90" y2="1828.60" stroke="#1c1c1c" stroke-width="1.3"/>
<text transform="translate(785.40 1842.30)" font-size="9.5" font-weight="bold" text-anchor="middle" stroke="#111" stroke-width="0.4">0</text>
<line x1="837.02" y1="1828.60" x2="837.02" y2="1825.60" stroke="#1c1c1c" stroke-width="1.3"/>
<text transform="translate(837.02 1842.30)" font-size="9.5" font-weight="bold" text-anchor="middle" stroke="#111" stroke-width="0.4">5</text>
<line x1="888.65" y1="1828.60" x2="888.65" y2="1825.60" stroke="#1c1c1c" stroke-width="1.3"/>
<text transform="translate(888.65 1842.30)" font-size="9.5" font-weight="bold" text-anchor="middle" stroke="#111" stroke-width="0.4">10</text>
<line x1="940.27" y1="1828.60" x2="940.27" y2="1825.60" stroke="#1c1c1c" stroke-width="1.3"/>
<text transform="translate(940.27 1842.30)" font-size="9.5" font-weight="bold" text-anchor="middle" stroke="#111" stroke-width="0.4">15</text>
<line x1="991.90" y1="1828.60" x2="991.90" y2="1825.60" stroke="#1c1c1c" stroke-width="1.3"/>
<text transform="translate(991.90 1842.30)" font-size="9.5" font-weight="bold" text-anchor="middle" stroke="#111" stroke-width="0.4">20</text>
<text transform="translate(782.80 1862.00)" font-size="15.7" font-weight="bold" stroke="#111" stroke-width="0.4">Enrichment Score (-log10(Pvalue))</text>
<text transform="translate(807.00 1895.30)" font-size="19.7" text-anchor="middle" stroke="#111" stroke-width="0.15">(D)</text>
<text transform="translate(358.10 1940.60)" font-size="15.3" font-weight="bold" text-anchor="middle" stroke="#111" stroke-width="0.4">Sig pathway of DE gene</text>
<rect x="248.30" y="1966.10" width="219.70" height="14.70" fill="#7f181b" stroke="#6a1216" stroke-width="0.6"/>
<text transform="translate(244.10 1977.30) scale(0.950 1)" font-size="10.5" font-weight="bold" text-anchor="end" stroke="#111" stroke-width="0.4">Osteoclast differentiation</text>
<text transform="translate(472.31 1977.30) scale(0.950 1)" font-size="10.5" font-weight="bold" stroke="#111" stroke-width="0.4">[23 genes]</text>
<rect x="248.30" y="1991.08" width="155.40" height="14.70" fill="#7f181b" stroke="#6a1216" stroke-width="0.6"/>
<text transform="translate(244.10 2002.28) scale(0.950 1)" font-size="10.5" font-weight="bold" text-anchor="end" stroke="#111" stroke-width="0.4">Malaria</text>
<text transform="translate(406.72 2002.28) scale(0.950 1)" font-size="10.5" font-weight="bold" stroke="#111" stroke-width="0.4">[12 genes]</text>
<rect x="248.30" y="2016.06" width="119.70" height="14.70" fill="#7f181b" stroke="#6a1216" stroke-width="0.6"/>
<text transform="translate(244.10 2027.26) scale(0.950 1)" font-size="10.5" font-weight="bold" text-anchor="end" stroke="#111" stroke-width="0.4">NOD-like receptor signaling pathway</text>
<text transform="translate(370.31 2027.26) scale(0.950 1)" font-size="10.5" font-weight="bold" stroke="#111" stroke-width="0.4">[11 genes]</text>
<rect x="248.30" y="2041.04" width="113.20" height="14.70" fill="#7f181b" stroke="#6a1216" stroke-width="0.6"/>
<text transform="translate(244.10 2052.24) scale(0.950 1)" font-size="10.5" font-weight="bold" text-anchor="end" stroke="#111" stroke-width="0.4">Leishmaniasis</text>
<text transform="translate(363.68 2052.24) scale(0.950 1)" font-size="10.5" font-weight="bold" stroke="#111" stroke-width="0.4">[12 genes]</text>
<rect x="248.30" y="2066.02" width="108.40" height="14.70" fill="#7f181b" stroke="#6a1216" stroke-width="0.6"/>
<text transform="translate(244.10 2077.22) scale(0.950 1)" font-size="10.5" font-weight="bold" text-anchor="end" stroke="#111" stroke-width="0.4">Rheumatoid arthritis</text>
<text transform="translate(358.78 2077.22) scale(0.950 1)" font-size="10.5" font-weight="bold" stroke="#111" stroke-width="0.4">[13 genes]</text>
<rect x="248.30" y="2091.00" width="94.50" height="14.70" fill="#7f181b" stroke="#6a1216" stroke-width="0.6"/>
<text transform="translate(244.10 2102.20) scale(0.950 1)" font-size="10.5" font-weight="bold" text-anchor="end" stroke="#111" stroke-width="0.4">Leukocyte transendothelial migration</text>
<text transform="translate(344.60 2102.20) scale(0.950 1)" font-size="10.5" font-weight="bold" stroke="#111" stroke-width="0.4">[14 genes]</text>
<rect x="248.30" y="2115.98" width="85.90" height="14.70" fill="#7f181b" stroke="#6a1216" stroke-width="0.6"/>
<text transform="translate(244.10 2127.18) scale(0.950 1)" font-size="10.5" font-weight="bold" text-anchor="end" stroke="#111" stroke-width="0.4">Tuberculosis</text>
<text transform="translate(335.83 2127.18) scale(0.950 1)" font-size="10.5" font-weight="bold" stroke="#111" stroke-width="0.4">[17 genes]</text>
<rect x="248.30" y="2140.96" width="82.50" height="14.70" fill="#7f181b" stroke="#6a1216" stroke-width="0.6"/>
<text transform="translate(244.10 2152.16) scale(0.950 1)" font-size="10.5" font-weight="bold" text-anchor="end" stroke="#111" stroke-width="0.4">AGE-RAGE signaling pathway in diabetic complications</text>
<text transform="translate(332.36 2152.16) scale(0.950 1)" font-size="10.5" font-weight="bold" stroke="#111" stroke-width="0.4">[12 genes]</text>
<rect x="248.30" y="2165.94" width="79.20" height="14.70" fill="#7f181b" stroke="#6a1216" stroke-width="0.6"/>
<text transform="translate(244.10 2177.14) scale(0.950 1)" font-size="10.5" font-weight="bold" text-anchor="end" stroke="#111" stroke-width="0.4">Phagosome</text>
<text transform="translate(329.00 2177.14) scale(0.950 1)" font-size="10.5" font-weight="bold" stroke="#111" stroke-width="0.4">[15 genes]</text>
<rect x="248.30" y="2190.92" width="78.30" height="14.70" fill="#7f181b" stroke="#6a1216" stroke-width="0.6"/>
<text transform="translate(244.10 2202.12) scale(0.950 1)" font-size="10.5" font-weight="bold" text-anchor="end" stroke="#111" stroke-width="0.4">Cytokine-cytokine receptor interaction</text>
<text transform="translate(328.08 2202.12) scale(0.950 1)" font-size="10.5" font-weight="bold" stroke="#111" stroke-width="0.4">[21 genes]</text>
<line x1="248.00" y1="1949.00" x2="248.00" y2="2223.60" stroke="#1c1c1c" stroke-width="1.3"/>
<line x1="247.40" y1="2223.00" x2="468.00" y2="2223.00" stroke="#1c1c1c" stroke-width="1.3"/>
<text transform="translate(248.00 2236.00)" font-size="8.6" font-weight="bold" text-anchor="middle" stroke="#111" stroke-width="0.4">0</text>
<line x1="290.40" y1="2223.00" x2="290.40" y2="2220.00" stroke="#1c1c1c" stroke-width="1.3"/>
<text transform="translate(290.40 2236.00)" font-size="8.6" font-weight="bold" text-anchor="middle" stroke="#111" stroke-width="0.4">2</text>
<line x1="332.80" y1="2223.00" x2="332.80" y2="2220.00" stroke="#1c1c1c" stroke-width="1.3"/>
<text transform="translate(332.80 2236.00)" font-size="8.6" font-weight="bold" text-anchor="middle" stroke="#111" stroke-width="0.4">4</text>
<line x1="375.20" y1="2223.00" x2="375.20" y2="2220.00" stroke="#1c1c1c" stroke-width="1.3"/>
<text transform="translate(375.20 2236.00)" font-size="8.6" font-weight="bold" text-anchor="middle" stroke="#111" stroke-width="0.4">6</text>
<line x1="417.60" y1="2223.00" x2="417.60" y2="2220.00" stroke="#1c1c1c" stroke-width="1.3"/>
<text transform="translate(417.60 2236.00)" font-size="8.6" font-weight="bold" text-anchor="middle" stroke="#111" stroke-width="0.4">8</text>
<line x1="460.00" y1="2223.00" x2="460.00" y2="2220.00" stroke="#1c1c1c" stroke-width="1.3"/>
<text transform="translate(460.00 2236.00)" font-size="8.6" font-weight="bold" text-anchor="middle" stroke="#111" stroke-width="0.4">10</text>
<text transform="translate(247.30 2254.30)" font-size="15.2" font-weight="bold" stroke="#111" stroke-width="0.4">EnrichmentScore (-log10(Pvalue))</text>
<text transform="translate(267.50 2293.70)" font-size="19.7" text-anchor="middle" stroke="#111" stroke-width="0.15">(E)</text>
<text transform="translate(868.20 1922.50)" font-size="16.8" font-weight="bold" text-anchor="middle" stroke="#111" stroke-width="0.4">Sig pathway of DE gene</text>
<rect x="748.10" y="1950.50" width="241.10" height="15.60" fill="#7f181b" stroke="#6a1216" stroke-width="0.6"/>
<text transform="translate(743.70 1962.50) scale(0.945 1)" font-size="11.6" font-weight="bold" text-anchor="end" stroke="#111" stroke-width="0.4">Carbon metabolism</text>
<text transform="translate(993.93 1962.50) scale(0.945 1)" font-size="11.6" font-weight="bold" stroke="#111" stroke-width="0.4">[18 genes]</text>
<rect x="748.10" y="1977.92" width="198.70" height="15.60" fill="#7f181b" stroke="#6a1216" stroke-width="0.6"/>
<text transform="translate(743.70 1989.92) scale(0.945 1)" font-size="11.6" font-weight="bold" text-anchor="end" stroke="#111" stroke-width="0.4">Valine, leucine and isoleucine degradation</text>
<text transform="translate(950.69 1989.92) scale(0.945 1)" font-size="11.6" font-weight="bold" stroke="#111" stroke-width="0.4">[11 genes]</text>
<rect x="748.10" y="2005.34" width="198.70" height="15.60" fill="#7f181b" stroke="#6a1216" stroke-width="0.6"/>
<text transform="translate(743.70 2017.34) scale(0.945 1)" font-size="11.6" font-weight="bold" text-anchor="end" stroke="#111" stroke-width="0.4">Fatty acid metabolism</text>
<text transform="translate(950.69 2017.34) scale(0.945 1)" font-size="11.6" font-weight="bold" stroke="#111" stroke-width="0.4">[11 genes]</text>
<rect x="748.10" y="2032.76" width="162.70" height="15.60" fill="#7f181b" stroke="#6a1216" stroke-width="0.6"/>
<text transform="translate(743.70 2044.76) scale(0.945 1)" font-size="11.6" font-weight="bold" text-anchor="end" stroke="#111" stroke-width="0.4">Citrate cycle (TCA cycle)</text>
<text transform="translate(913.97 2044.76) scale(0.945 1)" font-size="11.6" font-weight="bold" stroke="#111" stroke-width="0.4">[8 genes]</text>
<rect x="748.10" y="2060.18" width="162.80" height="15.60" fill="#7f181b" stroke="#6a1216" stroke-width="0.6"/>
<text transform="translate(743.70 2072.18) scale(0.945 1)" font-size="11.6" font-weight="bold" text-anchor="end" stroke="#111" stroke-width="0.4">Pyruvate metabolism</text>
<text transform="translate(914.07 2072.18) scale(0.945 1)" font-size="11.6" font-weight="bold" stroke="#111" stroke-width="0.4">[9 genes]</text>
<rect x="748.10" y="2087.60" width="156.40" height="15.60" fill="#7f181b" stroke="#6a1216" stroke-width="0.6"/>
<text transform="translate(743.70 2099.60) scale(0.945 1)" font-size="11.6" font-weight="bold" text-anchor="end" stroke="#111" stroke-width="0.4">Propanoate metabolism</text>
<text transform="translate(907.54 2099.60) scale(0.945 1)" font-size="11.6" font-weight="bold" stroke="#111" stroke-width="0.4">[8 genes]</text>
<rect x="748.10" y="2115.02" width="155.80" height="15.60" fill="#7f181b" stroke="#6a1216" stroke-width="0.6"/>
<text transform="translate(743.70 2127.02) scale(0.945 1)" font-size="11.6" font-weight="bold" text-anchor="end" stroke="#111" stroke-width="0.4">Biosynthesis of unsaturated fatty acids</text>
<text transform="translate(906.93 2127.02) scale(0.945 1)" font-size="11.6" font-weight="bold" stroke="#111" stroke-width="0.4">[7 genes]</text>
<rect x="748.10" y="2142.44" width="155.80" height="15.60" fill="#7f181b" stroke="#6a1216" stroke-width="0.6"/>
<text transform="translate(743.70 2154.44) scale(0.945 1)" font-size="11.6" font-weight="bold" text-anchor="end" stroke="#111" stroke-width="0.4">Glycolysis / Gluconeogenesis</text>
<text transform="translate(906.93 2154.44) scale(0.945 1)" font-size="11.6" font-weight="bold" stroke="#111" stroke-width="0.4">[11 genes]</text>
<rect x="748.10" y="2169.86" width="126.50" height="15.60" fill="#7f181b" stroke="#6a1216" stroke-width="0.6"/>
<text transform="translate(743.70 2181.86) scale(0.945 1)" font-size="11.6" font-weight="bold" text-anchor="end" stroke="#111" stroke-width="0.4">Fatty acid degradation</text>
<text transform="translate(877.04 2181.86) scale(0.945 1)" font-size="11.6" font-weight="bold" stroke="#111" stroke-width="0.4">[8 genes]</text>
<rect x="748.10" y="2197.28" width="108.10" height="15.60" fill="#7f181b" stroke="#6a1216" stroke-width="0.6"/>
<text transform="translate(743.70 2209.28) scale(0.945 1)" font-size="11.6" font-weight="bold" text-anchor="end" stroke="#111" stroke-width="0.4">Glucagon signaling pathway</text>
<text transform="translate(858.27 2209.28) scale(0.945 1)" font-size="11.6" font-weight="bold" stroke="#111" stroke-width="0.4">[11 genes]</text>
<line x1="747.80" y1="1931.00" x2="747.80" y2="2232.80" stroke="#1c1c1c" stroke-width="1.3"/>
<line x1="747.20" y1="2232.20" x2="988.60" y2="2232.20" stroke="#1c1c1c" stroke-width="1.3"/>
<text transform="translate(747.80 2246.70)" font-size="9.5" font-weight="bold" text-anchor="middle" stroke="#111" stroke-width="0.4">0</text>
<line x1="802.90" y1="2232.20" x2="802.90" y2="2229.20" stroke="#1c1c1c" stroke-width="1.3"/>
<text transform="translate(802.90 2246.70)" font-size="9.5" font-weight="bold" text-anchor="middle" stroke="#111" stroke-width="0.4">2</text>
<line x1="858.00" y1="2232.20" x2="858.00" y2="2229.20" stroke="#1c1c1c" stroke-width="1.3"/>
<text transform="translate(858.00 2246.70)" font-size="9.5" font-weight="bold" text-anchor="middle" stroke="#111" stroke-width="0.4">4</text>
<line x1="913.10" y1="2232.20" x2="913.10" y2="2229.20" stroke="#1c1c1c" stroke-width="1.3"/>
<text transform="translate(913.10 2246.70)" font-size="9.5" font-weight="bold" text-anchor="middle" stroke="#111" stroke-width="0.4">6</text>
<line x1="968.20" y1="2232.20" x2="968.20" y2="2229.20" stroke="#1c1c1c" stroke-width="1.3"/>
<text transform="translate(968.20 2246.70)" font-size="9.5" font-weight="bold" text-anchor="middle" stroke="#111" stroke-width="0.4">8</text>
<text transform="translate(747.00 2266.50)" font-size="16.6" font-weight="bold" stroke="#111" stroke-width="0.4">EnrichmentScore (-log10(Pvalue))</text>
<text transform="translate(805.40 2292.60)" font-size="19.7" text-anchor="middle" stroke="#111" stroke-width="0.15">(F)</text>
</svg>
</body></html>
